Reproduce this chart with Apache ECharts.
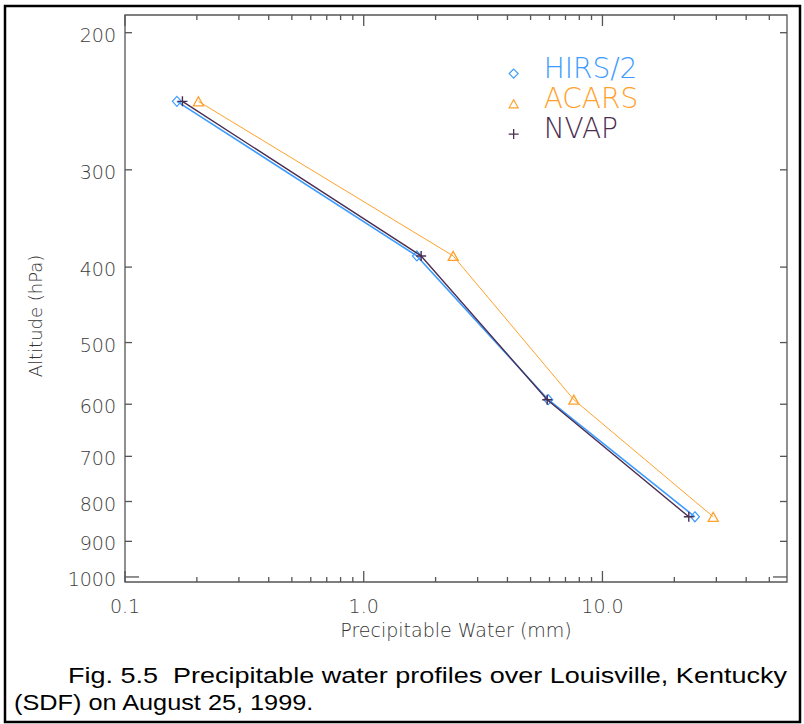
<!DOCTYPE html>
<html>
<head>
<meta charset="utf-8">
<script src="https://cdn.jsdelivr.net/npm/echarts@6/dist/echarts.min.js"></script>
<style>
  html, body { margin: 0; padding: 0; background: #ffffff; }
  #chart { width: 804px; height: 724px; }
</style>
</head>
<body>
<div id="chart"></div>
<script>
// ---- Data ----
const pressureHPa = [245, 387, 592, 837];
const hirs2 = [0.165, 1.67, 5.93, 24.4];
const acars = [0.203, 2.37, 7.59, 29.1];
const nvap = [0.174, 1.74, 5.87, 23.0];

const yTickValues = [200, 300, 400, 500, 600, 700, 800, 900, 1000];
const xMajorTicks = [0.1, 1, 10];
const xMinorTicks = [0.2, 0.3, 0.4, 0.5, 0.6, 0.7, 0.8, 0.9, 2, 3, 4, 5, 6, 7, 8, 9, 20, 30, 40, 50];
const xRange = [0.1, 59.3];
const yRange = [189.8, 1015];

const seriesNames = ['HIRS/2', 'ACARS', 'NVAP'];
const captionLines = [
  'Fig. 5.5  Precipitable water profiles over Louisville, Kentucky',
  '(SDF) on August 25, 1999.'
];

// ---- Styles ----
const C_HIRS = '#3d9cff';
const C_ACARS = '#ffa12b';
const C_NVAP = '#4b2d50';
const AXIS_COLOR = '#555555';
const LABEL_COLOR = '#3c3c3c';
const FONT = '"DejaVu Sans", sans-serif';
const FW = 200;

// legend icons: a 10x29 box (corner move-tos) with the mark sitting a little below the middle
const ICON_DIAMOND = 'path://M0,0M10,29M5,15.5L9.5,20L5,24.5L0.5,20Z';
const ICON_TRIANGLE = 'path://M0,0M10,29M5,16L9.5,24L0.5,24Z';
const ICON_PLUS = 'path://M0,0M10,29M5,15L5,25M0,20L10,20';

function pairs(xs, ys) { return xs.map((x, i) => [x, ys[i]]); }

const tickData = [].concat(
  yTickValues.map(v => [xRange[0], v, 0]),
  xMajorTicks.map(v => [v, yRange[1], 1]),
  xMinorTicks.map(v => [v, yRange[1], 2])
);

function renderTicks(params, api) {
  const cs = params.coordSys;
  const kind = api.value(2);
  const p = api.coord([api.value(0), api.value(1)]);
  const L = cs.x, R = cs.x + cs.width, T = cs.y, B = cs.y + cs.height;
  const st = { stroke: AXIS_COLOR, lineWidth: 1.3 };
  if (kind === 0) {
    const v = api.value(1);
    const len = v === 1000 ? 14 : 7;
    return { type: 'group', children: [
      { type: 'line', shape: { x1: L, y1: p[1], x2: L + len, y2: p[1] }, style: st },
      { type: 'line', shape: { x1: R - len, y1: p[1], x2: R, y2: p[1] }, style: st },
      { type: 'text', x: L - 9, y: p[1] + 2, style: { text: String(v), align: 'right', verticalAlign: 'middle', fontSize: 19, fontFamily: FONT, fontWeight: FW, fill: LABEL_COLOR } }
    ]};
  }
  const len = kind === 1 ? 11 : 5;
  const children = [
    { type: 'line', shape: { x1: p[0], y1: B, x2: p[0], y2: B - len }, style: st },
    { type: 'line', shape: { x1: p[0], y1: T, x2: p[0], y2: T + len }, style: st }
  ];
  if (kind === 1) {
    const v = api.value(0);
    children.push({ type: 'text', x: p[0], y: B + 24, style: { text: v.toFixed(1), align: 'center', verticalAlign: 'middle', fontSize: 19, fontFamily: FONT, fontWeight: FW, fill: LABEL_COLOR } });
  }
  return { type: 'group', children: children };
}

const chart = echarts.init(document.getElementById('chart'), null, { renderer: 'svg', width: 804, height: 724 });

const option = {
  animation: false,
  backgroundColor: '#ffffff',
  grid: { left: 125, top: 15, width: 662, height: 567, show: true, borderColor: AXIS_COLOR, borderWidth: 1.3, containLabel: false, outerBoundsMode: 'none' },
  xAxis: {
    type: 'log', logBase: 10, min: xRange[0], max: xRange[1],
    axisLine: { show: false }, axisTick: { show: false }, axisLabel: { show: false }, splitLine: { show: false },
    name: 'Precipitable Water (mm)', nameLocation: 'middle', nameGap: 38,
    nameTextStyle: { fontSize: 19, fontFamily: FONT, fontWeight: FW, color: '#333333' }
  },
  yAxis: {
    type: 'log', logBase: 10, min: yRange[0], max: yRange[1], inverse: true,
    axisLine: { show: false }, axisTick: { show: false }, axisLabel: { show: false }, splitLine: { show: false },
    name: 'Altitude (hPa)', nameLocation: 'middle', nameGap: 81, nameRotate: 90,
    nameTextStyle: { fontSize: 18, fontFamily: FONT, fontWeight: FW, color: '#333333', padding: [0, 35, 0, 0] }
  },
  legend: {
    orient: 'vertical', left: 503, top: 48, itemWidth: 10, itemHeight: 29, itemGap: 0,
    selectedMode: false,
    lineStyle: { opacity: 0 },
    textStyle: { fontSize: 28, fontFamily: FONT, fontWeight: FW, lineHeight: 29, padding: [0, 0, 0, 20] },
    data: [
      { name: seriesNames[0], icon: ICON_DIAMOND, itemStyle: { color: 'rgba(0,0,0,0)', borderColor: C_HIRS, borderWidth: 1.2 }, textStyle: { color: C_HIRS } },
      { name: seriesNames[1], icon: ICON_TRIANGLE, itemStyle: { color: 'rgba(0,0,0,0)', borderColor: C_ACARS, borderWidth: 1.2 }, textStyle: { color: C_ACARS } },
      { name: seriesNames[2], icon: ICON_PLUS, itemStyle: { color: 'rgba(0,0,0,0)', borderColor: C_NVAP, borderWidth: 1.3 }, textStyle: { color: C_NVAP } }
    ]
  },
  series: [
    {
      type: 'custom', name: 'ticks', renderItem: renderTicks, data: tickData, silent: true, z: 1,
      encode: { x: 0, y: 1 }
    },
    {
      type: 'line', name: seriesNames[0], data: pairs(hirs2, pressureHPa), z: 3,
      symbol: 'diamond', symbolSize: [9, 10],
      lineStyle: { color: C_HIRS, width: 1.6 },
      itemStyle: { color: 'rgba(0,0,0,0)', borderColor: C_HIRS, borderWidth: 1.2 }
    },
    {
      type: 'line', name: seriesNames[1], data: pairs(acars, pressureHPa), z: 3,
      symbol: 'triangle', symbolSize: [10, 9],
      lineStyle: { color: C_ACARS, width: 1 },
      itemStyle: { color: 'rgba(0,0,0,0)', borderColor: C_ACARS, borderWidth: 1.3 }
    },
    {
      type: 'line', name: seriesNames[2], data: pairs(nvap, pressureHPa), z: 4,
      symbol: 'path://M5,0L5,10M0,5L10,5', symbolSize: 10,
      lineStyle: { color: C_NVAP, width: 1.4 },
      itemStyle: { color: 'rgba(0,0,0,0)', borderColor: C_NVAP, borderWidth: 1.4 }
    }
  ],
  graphic: [
    { type: 'rect', silent: true, shape: { x: 5, y: 6, width: 795, height: 716 }, style: { fill: 'none', stroke: '#000000', lineWidth: 2.5 } },
    { type: 'text', silent: true, x: 68, y: 675, scaleX: 1.228, style: { text: captionLines[0], fontSize: 22, fontFamily: '"Liberation Sans", Arial, sans-serif', fill: '#000000', align: 'left', verticalAlign: 'middle' } },
    { type: 'text', silent: true, x: 14, y: 703, scaleX: 1.15, style: { text: captionLines[1], fontSize: 22, fontFamily: '"Liberation Sans", Arial, sans-serif', fill: '#000000', align: 'left', verticalAlign: 'middle' } }
  ]
};

chart.setOption(option);
</script>
</body>
</html>
